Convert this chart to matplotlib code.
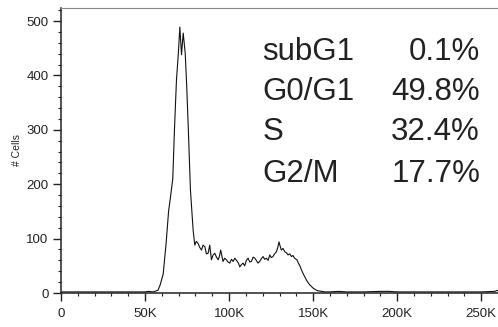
import matplotlib
matplotlib.use("Agg")
import matplotlib.pyplot as plt
from matplotlib.ticker import MultipleLocator

plt.rcParams['font.family'] = ['Liberation Sans', 'DejaVu Sans']

# DNA content channel (in thousands) and cell counts
channel_k = [0, 10, 20, 30, 40, 50, 52, 55, 57.7, 59, 60.8, 62.5, 64, 65.5, 66.5,
             67.5, 68.7, 69.8, 70.7, 71.7, 72.7, 73.9, 74.8, 75.7, 77, 78.6,
             79.6, 80.5, 81.6, 82.5, 83.6, 84.5, 85.6, 86.5, 87.5, 88.5, 89.5,
             90.5, 91.5, 92.5, 93.5, 94.3, 95, 96.4, 97.4, 98.4, 99.4, 100.4,
             101.4, 102.4, 103.4, 104.4, 105.4, 106.4, 107.3, 108.3, 109.3,
             110.3, 111.3, 112.3, 113.3, 114.3, 115.3, 116.2, 117.2, 118.2,
             119.2, 120.2, 121.2, 122.2, 123.2, 124.2, 125.1, 126.1, 127.1,
             128.2, 129, 129.7, 130.4, 131.1, 132.1, 133.1, 134.1, 135.1, 136.1,
             137.1, 138, 139, 140.4, 141.2, 142, 143, 144, 145, 146, 147, 148,
             149, 150, 151, 152, 153, 155, 157, 160, 165, 170, 180, 190, 195,
             200, 210, 220, 230, 240, 250, 258, 260]
cells = [2, 2, 2, 2, 2, 2, 3, 2, 5, 15, 35, 90, 150, 185, 210,
         300, 392, 440, 489, 438, 478, 441, 380, 306, 190, 116,
         88, 95, 91, 84, 79, 88, 85, 72, 73, 88, 61,
         70, 73, 66, 61, 68, 79, 58, 64, 61, 57, 55,
         62, 58, 64, 60, 56, 48, 52, 55, 50,
         60, 64, 57, 58, 66, 64, 60, 55, 58,
         63, 67, 62, 64, 60, 70, 65, 67, 72,
         76, 84, 94, 86, 79, 82, 76, 74, 70, 72,
         67, 69, 64, 61, 55, 51, 43, 36, 30, 24, 19, 15,
         12, 9, 7, 5, 4, 3, 2, 2, 3, 2, 2, 3, 3,
         2, 2, 2, 2, 2, 2, 3, 5]

phases = ['subG1', 'G0/G1', 'S', 'G2/M']
percents = ['0.1%', '49.8%', '32.4%', '17.7%']

x_ticks = [0, 50, 100, 150, 200, 250]
x_labels = ['0', '50K', '100K', '150K', '200K', '250K']
y_ticks = [0, 100, 200, 300, 400, 500]

fig = plt.figure(figsize=(4.98, 3.27), dpi=100)
ax = fig.add_axes([61 / 498, 1 - 293 / 327, 1 - 61 / 498, (293 - 7.5) / 327])

ax.plot(channel_k, cells, color='#111111', lw=0.8)

ax.set_xlim(0, 260)
ax.set_ylim(0, 525)
ax.set_xticks(x_ticks)
ax.set_xticklabels(x_labels)
ax.set_yticks(y_ticks)
ax.xaxis.set_minor_locator(MultipleLocator(10))
ax.yaxis.set_minor_locator(MultipleLocator(20))
ax.tick_params(which='major', direction='out', length=6, width=1, colors='#222222',
               labelsize=9.5)
ax.tick_params(axis='x', which='major', pad=5)
ax.tick_params(axis='y', which='major', pad=3)
ax.tick_params(which='minor', direction='out', length=2.5, width=0.8, colors='#222222')
ax.set_ylabel('# Cells', fontsize=7.5, color='#222222', labelpad=3)

for side in ['left', 'bottom']:
    ax.spines[side].set_color('#222222')
    ax.spines[side].set_linewidth(1.1)
ax.spines['top'].set_color('#888888')
ax.spines['top'].set_linewidth(0.8)
ax.spines['right'].set_visible(False)

baselines = [60, 100, 140, 182]
for name, pct, yb in zip(phases, percents, baselines):
    fig.text(262.5 / 498, 1 - yb / 327, name, fontsize=22.5, color='#222222',
             ha='left', va='baseline')
    fig.text(480 / 498, 1 - yb / 327, pct, fontsize=22.5, color='#222222',
             ha='right', va='baseline')

fig.savefig('out.png', dpi=100)
